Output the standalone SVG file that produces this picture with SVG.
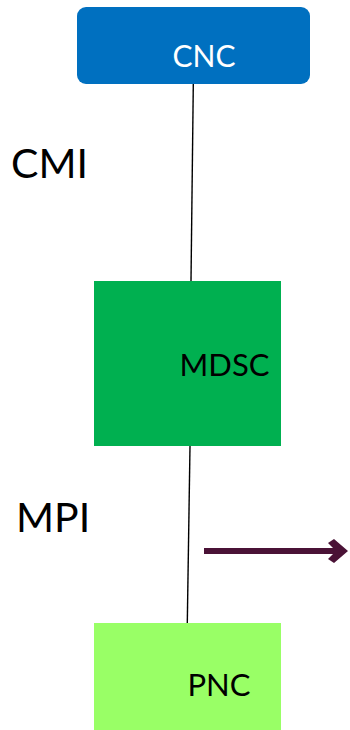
<svg xmlns="http://www.w3.org/2000/svg" width="350" height="730" viewBox="0 0 350 730">
<style>
.lbl{font-family:Lato,"Open Sans","Liberation Sans",sans-serif;}
.conn{stroke:#000;stroke-width:1.4;fill:none;}
</style>
<rect width="350" height="730" fill="#fff"/>
<g id="connectors">
<line class="conn" x1="193.3" y1="84" x2="191" y2="281"/>
<line class="conn" x1="190" y1="446" x2="187.3" y2="623"/>
</g>
<g id="cnc">
<rect x="77" y="7" width="233" height="77" rx="9" fill="#0070C0"/>
<text class="lbl" x="204" y="67" font-size="30" fill="#fff" text-anchor="middle">CNC</text>
</g>
<g id="mdsc">
<rect x="94" y="281" width="187" height="165" fill="#00B050"/>
<text class="lbl" x="224.5" y="376" font-size="31" fill="#000" text-anchor="middle">MDSC</text>
</g>
<g id="pnc">
<rect x="94" y="623" width="187" height="107" fill="#99FF66"/>
<text class="lbl" x="219" y="696" font-size="31" fill="#000" text-anchor="middle">PNC</text>
</g>
<g id="labels">
<text class="lbl" x="11" y="178" font-size="41" fill="#000">CMI</text>
<text class="lbl" x="16" y="532" font-size="41" fill="#000">MPI</text>
</g>
<g id="arrow">
<line x1="204" y1="551" x2="340" y2="551" stroke="#4A1236" stroke-width="6"/>
<polygon points="328,543 334,539 348,551 334,563 328,559 336,551" fill="#4A1236"/>
</g>
</svg>
